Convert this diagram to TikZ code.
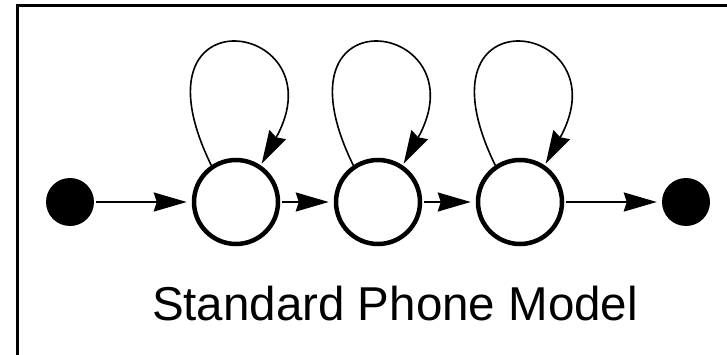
\documentclass[tikz,border=0pt]{standalone}
\usepackage{fontspec}
\setmainfont{Liberation Sans}
\usetikzlibrary{arrows.meta}
\begin{document}
\begin{tikzpicture}[x=1pt,y=1pt,
        state/.style={circle,draw,line width=4.5pt,minimum size=84pt,inner sep=0pt},
        dot/.style={circle,fill,minimum size=48pt,inner sep=0pt},
        arc/.style={line width=2pt,-{Stealth[length=33pt,width=19pt,inset=3pt]},shorten >=5pt,shorten <=2pt},
        selfloop/.style={line width=1.6pt,-{Stealth[length=33pt,width=19pt,inset=3pt]},shorten >=2pt}]
        \clip (0,0) rectangle (727,354);
        % Frame
        \draw[line width=3pt] (17.5,-10) -- (17.5,348.5) -- (740,348.5);

        % States
        \node[dot] (start) at (70,152) {};
        \node[state] (s1) at (236,152) {};
        \node[state] (s2) at (378,152) {};
        \node[state] (s3) at (520,152) {};
        \node[dot] (end) at (686,152) {};

        \draw[arc] (start) -- (s1);
        \draw[arc] (s1) -- (s2);
        \draw[arc] (s2) -- (s3);
        \draw[arc] (s3) -- (end);

        \foreach \s in {s1,s2,s3}
            \draw[selfloop] (\s.124) .. controls +(116:198) and +(61:165) .. (\s.56);

        \node[font=\fontsize{47.5}{50}\selectfont,anchor=base] (title) at (395,34) {Standard Phone Model};
    \end{tikzpicture}
\end{document}
